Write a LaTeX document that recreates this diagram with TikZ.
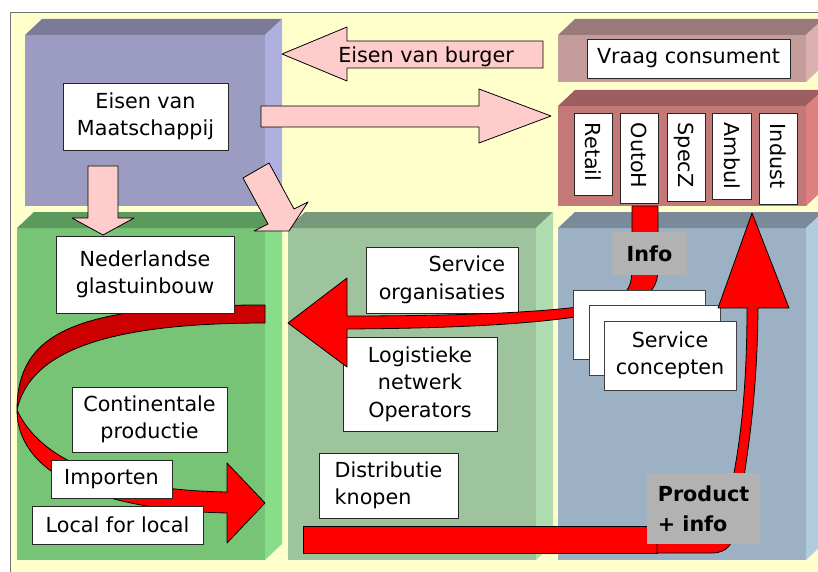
\documentclass[tikz,border=0pt]{standalone}
\usepackage{fontspec}
\setmainfont{DejaVu Sans}

\definecolor{paleyellow}{HTML}{FFFFCC}
\definecolor{purpfront}{HTML}{9C9CC2}
\definecolor{purptop}{HTML}{7B7B99}
\definecolor{purpside}{HTML}{B0B0E0}
\definecolor{greenfront}{HTML}{77C477}
\definecolor{greentop}{HTML}{5C995C}
\definecolor{greenside}{HTML}{88DD88}
\definecolor{sagefront}{HTML}{9DC49D}
\definecolor{sagetop}{HTML}{7A997A}
\definecolor{sageside}{HTML}{B0DDB0}
\definecolor{bluefront}{HTML}{9CB2C4}
\definecolor{bluetop}{HTML}{7A8A99}
\definecolor{blueside}{HTML}{B0CCDD}
\definecolor{rosefront}{HTML}{C49C9C}
\definecolor{rosetop}{HTML}{997A7A}
\definecolor{roseside}{HTML}{DDB0B0}
\definecolor{brickfront}{HTML}{C47878}
\definecolor{bricktop}{HTML}{9C5E5E}
\definecolor{brickside}{HTML}{DD8080}
\definecolor{pinkfill}{HTML}{FFCCCC}
\definecolor{arrowred}{HTML}{FF0000}
\definecolor{darkred}{HTML}{CC0000}
\definecolor{labelgray}{HTML}{B2B2B2}

% a raised block: front face (x1,y1)-(x2,y2), then top and side faces
\newcommand{\slab}[7]{%
  \fill[#5] (#1,#2) rectangle (#3,#4);
  \fill[#6] (#1,#2) -- (#1+17,#2-16) -- (#3+17,#2-16) -- (#3,#2) -- cycle;
  \fill[#7] (#3,#2) -- (#3+17,#2-16) -- (#3+17,#4-16) -- (#3,#4) -- cycle;
}

\begin{document}
\begin{tikzpicture}[x=1pt, y=-1pt, line join=round,
  every node/.style={font=\fontsize{20.7}{27.5}\selectfont},
  edge/.style={draw=black, line width=0.8pt},
  wbox/.style={draw=black!85, line width=0.8pt, fill=white, inner sep=0pt, align=center},
  vtext/.style={rotate=-90, anchor=west, inner sep=0pt, text height=15pt, text depth=0pt},
  glabel/.style={fill=labelgray, inner sep=0pt, align=left,
    font=\fontsize{20.7}{30}\selectfont\bfseries},
  pinkarrow/.style={fill=pinkfill, draw=black, line width=0.8pt},
  redarrow/.style={fill=arrowred, draw=black, line width=0.8pt},
]
\useasboundingbox (0,0) rectangle (818,572);
\fill[white] (0,0) rectangle (818,572);
\draw[fill=paleyellow, draw=black!55, line width=0.8pt] (10,12) rectangle (840,600);

% blocks
\slab{25}{35}{265}{206}{purpfront}{purptop}{purpside}
\slab{558}{35}{806}{82}{rosefront}{rosetop}{roseside}
\slab{558}{106}{806}{206}{brickfront}{bricktop}{brickside}
\slab{17}{228}{265}{560}{greenfront}{greentop}{greenside}
\slab{288}{228}{536}{560}{sagefront}{sagetop}{sageside}
\slab{558}{228}{806}{560}{bluefront}{bluetop}{blueside}

% pink arrows
\draw[pinkarrow] (543,41) -- (347,41) -- (347,27) -- (282,54) -- (347,81) -- (347,68) -- (543,68) -- cycle;
\node[inner sep=0pt, text height=15pt, text depth=0pt] (burger) at (426,55) {Eisen van burger};
\draw[pinkarrow] (261,106) -- (479,106) -- (479,89) -- (551,116) -- (479,143) -- (479,127) -- (261,127) -- cycle;
\draw[pinkarrow] (88,166) -- (118,166) -- (118,218) -- (134,218) -- (103,235) -- (72,218) -- (88,218) -- cycle;
\draw[pinkarrow] (243,178) -- (269,163) -- (294,209) -- (308,202) -- (289,231) -- (254,231) -- (268,224) -- cycle;

% twisted ribbon in the left block
\draw[edge, fill=darkred] (265,305) .. controls (80,305) and (17,330) .. (17,410)
  .. controls (30,350) and (110,323) .. (265,323) -- cycle;
\draw[edge, fill=arrowred] (17,410) .. controls (17,470) and (90,510) .. (227,513)
  -- (227,543) -- (265,503) -- (227,463) -- (227,492)
  .. controls (110,490) and (40,460) .. (17,410) -- cycle;

% text boxes
\node[wbox, minimum width=165pt, minimum height=67pt] (maat) at (145.5,116.5) {Eisen van\\Maatschappij};
\node[wbox, minimum width=203pt, minimum height=39pt] (vraag) at (688.5,58.5) {Vraag consument};
\node[wbox, minimum width=178pt, minimum height=77pt] (ned) at (145,274.5) {Nederlandse\\glastuinbouw};
\node[wbox, minimum width=155pt, minimum height=65pt] (cont) at (149.5,419.5) {Continentale\\productie};
\node[wbox, minimum width=121pt, minimum height=38pt] (imp) at (111.5,479) {Importen};
\node[wbox, minimum width=171pt, minimum height=38pt] (local) at (117.5,525) {Local for local};
\node[wbox, minimum width=152pt, minimum height=66pt, align=right] (servorg) at (442,280) {Service\\organisaties};
\node[wbox, minimum width=154pt, minimum height=94pt] (logi) at (420,384) {Logistieke\\netwerk\\Operators};
\node[wbox, minimum width=139pt, minimum height=65pt, align=left] (distr) at (388.5,485.5) {Distributie\\knopen};

% channel boxes with vertical labels
\node[wbox, minimum width=38pt, minimum height=82pt] (retail) at (593,154) {};
\node[wbox, minimum width=38pt, minimum height=90pt] (outoh) at (639,158) {};
\node[wbox, minimum width=38pt, minimum height=88pt] (specz) at (686,157) {};
\node[wbox, minimum width=39pt, minimum height=86pt] (ambul) at (731.5,156) {};
\node[wbox, minimum width=38pt, minimum height=91pt] (indust) at (778,158.5) {};
\node[vtext] (retailtx) at ([yshift=-10pt]retail.north) {Retail};
\node[vtext] (outohtx) at ([yshift=-10pt]outoh.north) {OutoH};
\node[vtext] (specztx) at ([yshift=-10pt]specz.north) {SpecZ};
\node[vtext] (ambultx) at ([yshift=-10pt]ambul.north) {Ambul};
\node[vtext] (industtx) at ([yshift=-11pt]indust.north) {Indust};

% information flow into the service organisations
\draw[redarrow] (347,316) .. controls (470,316) and (550,312) .. (600,304)
  .. controls (625,299) and (632,290) .. (632,268) -- (632,206) -- (658,206) -- (658,268)
  .. controls (658,285) and (652,292) .. (640,300)
  .. controls (600,320) and (500,328) .. (347,329)
  -- (347,367) -- (288,323) -- (347,278) -- cycle;

% stacked service concept cards
\node[wbox, draw=black!75, minimum width=132pt, minimum height=69pt] (card1) at (639,324.5) {};
\node[wbox, draw=black!75, minimum width=131pt, minimum height=70pt] (card2) at (654.5,340) {};
\node[wbox, draw=black!75, minimum width=132pt, minimum height=69pt] (card3) at (670,355.5) {Service\\concepten};

\node[glabel, minimum width=75pt, minimum height=43pt] (info) at (649.5,253.5) {Info};

% product flow back to the channels
\draw[redarrow] (303,526) rectangle (657,553);
\draw[redarrow] (657,526) -- (657,553) -- (712,553) .. controls (726,553) and (734,545) .. (737,525)
  .. controls (742,480) and (757,420) .. (758,308) -- (789,308) -- (752,213) -- (718,308) -- (747,308)
  .. controls (747,400) and (738,460) .. (728,500) -- (720,526) -- cycle;

\node[glabel, minimum width=113pt, minimum height=71pt] (prod) at (703.5,508.5) {Product\\+ info};
\end{tikzpicture}
\end{document}
